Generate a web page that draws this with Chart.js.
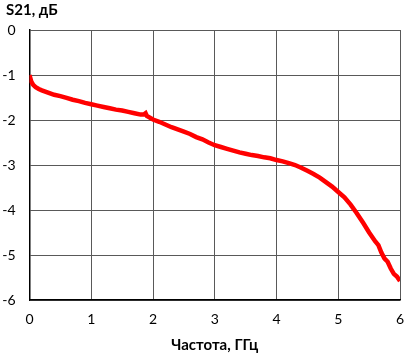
<!DOCTYPE html>
<html>
<head>
<meta charset="utf-8">
<script src="https://cdn.jsdelivr.net/npm/chart.js@4/dist/chart.umd.min.js"></script>
<style>
html,body{margin:0;padding:0;background:#fff;}
#wrap{width:410px;height:358px;}
</style>
</head>
<body>
<div id="wrap"><canvas id="c" width="410" height="358"></canvas></div>
<script>
const chartTitle = "S21, дБ";
const xAxisTitle = "Частота, ГГц";
const freq = [0, 0.01, 0.03, 0.06, 0.1, 0.15, 0.2, 0.3, 0.4, 0.5, 0.6, 0.7, 0.8, 0.9, 1.0, 1.1, 1.2, 1.3, 1.4, 1.5, 1.6, 1.7, 1.8, 1.85, 1.88, 1.9, 2.0, 2.1, 2.2, 2.3, 2.4, 2.5, 2.6, 2.7, 2.8, 2.9, 3.0, 3.1, 3.2, 3.3, 3.4, 3.5, 3.6, 3.7, 3.8, 3.9, 4.0, 4.1, 4.2, 4.3, 4.4, 4.5, 4.6, 4.7, 4.8, 4.9, 5.0, 5.1, 5.2, 5.3, 5.4, 5.5, 5.6, 5.65, 5.7, 5.75, 5.8, 5.85, 5.9, 5.95, 6.0];
const s21 = [-1.00, -1.05, -1.15, -1.22, -1.27, -1.31, -1.34, -1.39, -1.44, -1.47, -1.51, -1.55, -1.58, -1.62, -1.65, -1.68, -1.71, -1.74, -1.77, -1.79, -1.82, -1.85, -1.88, -1.88, -1.85, -1.91, -1.99, -2.04, -2.10, -2.16, -2.21, -2.26, -2.31, -2.38, -2.43, -2.50, -2.56, -2.60, -2.64, -2.68, -2.72, -2.75, -2.78, -2.80, -2.83, -2.85, -2.89, -2.92, -2.96, -3.00, -3.06, -3.13, -3.20, -3.28, -3.38, -3.48, -3.60, -3.72, -3.88, -4.07, -4.28, -4.50, -4.70, -4.78, -4.95, -5.08, -5.15, -5.30, -5.42, -5.48, -5.58];
const xTicks = [0, 1, 2, 3, 4, 5, 6];
const yTicks = [0, -1, -2, -3, -4, -5, -6];

const FONT = "Lato, 'Open Sans', sans-serif";

const titlePlugin = {
  id: 'topTitle',
  afterDraw(chart) {
    const ctx = chart.ctx;
    ctx.save();
    ctx.font = "bold 15px " + FONT;
    ctx.fillStyle = "#000";
    ctx.textAlign = "left";
    ctx.textBaseline = "middle";
    ctx.fillText(chartTitle, 6, 10);
    ctx.restore();
  }
};

new Chart(document.getElementById('c'), {
  type: 'line',
  data: {
    datasets: [{
      data: freq.map((f, i) => ({x: f, y: s21[i]})),
      borderColor: '#ff0000',
      borderWidth: 4.5,
      pointRadius: 0,
      tension: 0,
      fill: false
    }]
  },
  options: {
    responsive: false,
    animation: false,
    devicePixelRatio: 1,
    layout: { padding: { top: 30, right: 10, left: 0, bottom: 0 } },
    plugins: { legend: { display: false }, tooltip: { enabled: false }, title: { display: false } },
    scales: {
      x: {
        type: 'linear',
        min: xTicks[0], max: xTicks[xTicks.length - 1],
        afterBuildTicks: s => { s.ticks = xTicks.map(v => ({value: v})); },
        afterFit: s => { s.height = 58; s.paddingRight = 0; s.paddingLeft = 0; },
        ticks: { color: '#000', font: { family: FONT, size: 14 }, padding: 11, maxRotation: 0 },
        grid: { color: '#595959', lineWidth: 1, drawTicks: false },
        border: { color: '#000', width: 1.5 },
        title: { display: true, text: xAxisTitle, color: '#000', font: { family: FONT, size: 15, weight: 'bold' }, padding: { top: 0, bottom: 4 } }
      },
      y: {
        type: 'linear',
        min: -6, max: 0,
        afterBuildTicks: s => { s.ticks = yTicks.map(v => ({value: v})); },
        afterFit: s => { s.width = 29.5; s.paddingTop = 0; s.paddingBottom = 0; },
        ticks: { color: '#000', font: { family: FONT, size: 14 }, padding: 14 },
        grid: { color: '#595959', lineWidth: 1, drawTicks: false },
        border: { color: '#000', width: 1.5 }
      }
    }
  },
  plugins: [titlePlugin]
});
</script>
</body>
</html>
